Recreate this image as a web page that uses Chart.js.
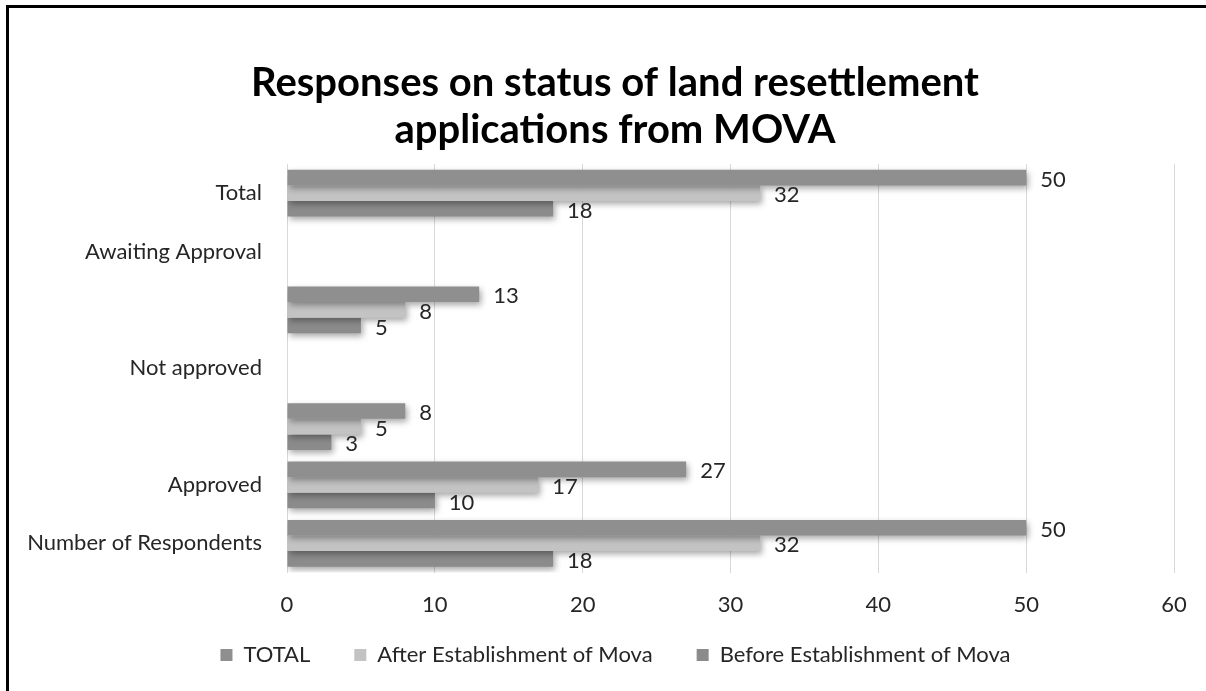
<!DOCTYPE html>
<html>
<head>
<meta charset="utf-8">
<script src="https://cdn.jsdelivr.net/npm/chart.js@4.4.1/dist/chart.umd.min.js"></script>
<style>
  html, body { margin: 0; padding: 0; background: #fff; }
  #wrap { position: relative; width: 1206px; height: 691px; }
  #frame { position: absolute; left: 6px; top: 5px; width: 1200px; height: 686px;
           border-left: 3px solid #000; border-top: 3px solid #000; box-sizing: border-box; pointer-events: none; }
  canvas { position: absolute; left: 0; top: 0; }
</style>
</head>
<body>
<div id="wrap">
  <canvas id="c" width="1206" height="691"></canvas>
  <div id="frame"></div>
</div>
<script>
const categories = ["Total", "Awaiting Approval", "", "Not approved", "", "Approved", "Number of Respondents"];
const seriesNames = ["TOTAL", "After Establishment of Mova", "Before Establishment of Mova"];
const totalValues = [50, null, 13, null, 8, 27, 50];
const afterValues = [32, null, 8, null, 5, 17, 32];
const beforeValues = [18, null, 5, null, 3, 10, 18];
const xTicks = [0, 10, 20, 30, 40, 50, 60];
const titleLines = ["Responses on status of land resettlement", "applications from MOVA"];

const FONT = "Lato, 'Open Sans', sans-serif";

const shadowPlugin = {
  id: 'shadow',
  beforeDatasetsDraw(chart) {
    const ctx = chart.ctx;
    ctx.save();
    ctx.shadowColor = 'rgba(0,0,0,0.35)';
    ctx.shadowBlur = 6;
    ctx.shadowOffsetX = 2;
    ctx.shadowOffsetY = 3;
  },
  afterDatasetsDraw(chart) {
    chart.ctx.restore();
  }
};

const labelPlugin = {
  id: 'valueLabels',
  afterDatasetsDraw(chart) {
    const ctx = chart.ctx;
    ctx.save();
    ctx.shadowColor = 'transparent';
    ctx.font = "22px " + FONT;
    ctx.fillStyle = '#262626';
    ctx.textAlign = 'left';
    ctx.textBaseline = 'middle';
    chart.data.datasets.forEach((ds, i) => {
      const meta = chart.getDatasetMeta(i);
      meta.data.forEach((el, j) => {
        const v = ds.data[j];
        if (v === null || v === undefined) return;
        ctx.fillText(String(v), el.x + 14, el.y + 2);
      });
    });
    ctx.restore();
  }
};

// centre title and legend like the reference (a bit right of the canvas centre)
const placeBlocks = {
  id: 'placeBlocks',
  afterLayout(chart) {
    const t = chart.titleBlock;
    if (t) { t.left += 28; t.right += 28; }
    const lg = chart.legend;
    if (lg) {
      lg.left += 28.5;
      lg.right += 28.5;
      lg.top = 600;
      lg.bottom = 691;
      lg.height = 91;
    }
  }
};

new Chart(document.getElementById('c'), {
  type: 'bar',
  data: {
    labels: categories,
    datasets: [
      { label: seriesNames[0], data: totalValues, backgroundColor: '#8f8f8f' },
      { label: seriesNames[1], data: afterValues, backgroundColor: '#c3c3c3' },
      { label: seriesNames[2], data: beforeValues, backgroundColor: '#8b8b8b' }
    ]
  },
  options: {
    indexAxis: 'y',
    responsive: false,
    animation: false,
    devicePixelRatio: 1,
    layout: { padding: { left: 0, right: 32, top: 20, bottom: 22.5 } },
    datasets: { bar: { categoryPercentage: 0.8, barPercentage: 1.0 } },
    scales: {
      x: {
        min: 0, max: 60,
        afterBuildTicks(scale) { scale.ticks = xTicks.map(v => ({ value: v })); },
        afterFit(scale) { scale.height = 46; },
        grid: { color: '#d9d9d9', lineWidth: 1, drawTicks: false },
        border: { display: false },
        ticks: { padding: 19, color: '#262626', font: { family: FONT, size: 22 } }
      },
      y: {
        afterFit(scale) { scale.width = 287; },
        grid: { display: false, drawTicks: false },
        border: { display: false },
        ticks: { padding: 25, color: '#262626', autoSkip: false, font: { family: FONT, size: 22 } }
      }
    },
    plugins: {
      title: {
        display: true,
        text: titleLines,
        color: '#000',
        font: { family: FONT, size: 40, weight: 'bold', lineHeight: 1.175 },
        padding: { top: 39.5, bottom: 10.5 }
      },
      legend: {
        position: 'bottom',
        maxHeight: 50,
        labels: {
          color: '#262626',
          boxWidth: 12, boxHeight: 12,
          padding: 44,
          font: { family: FONT, size: 22 }
        }
      },
      tooltip: { enabled: false }
    }
  },
  plugins: [shadowPlugin, labelPlugin, placeBlocks]
});
</script>
</body>
</html>
